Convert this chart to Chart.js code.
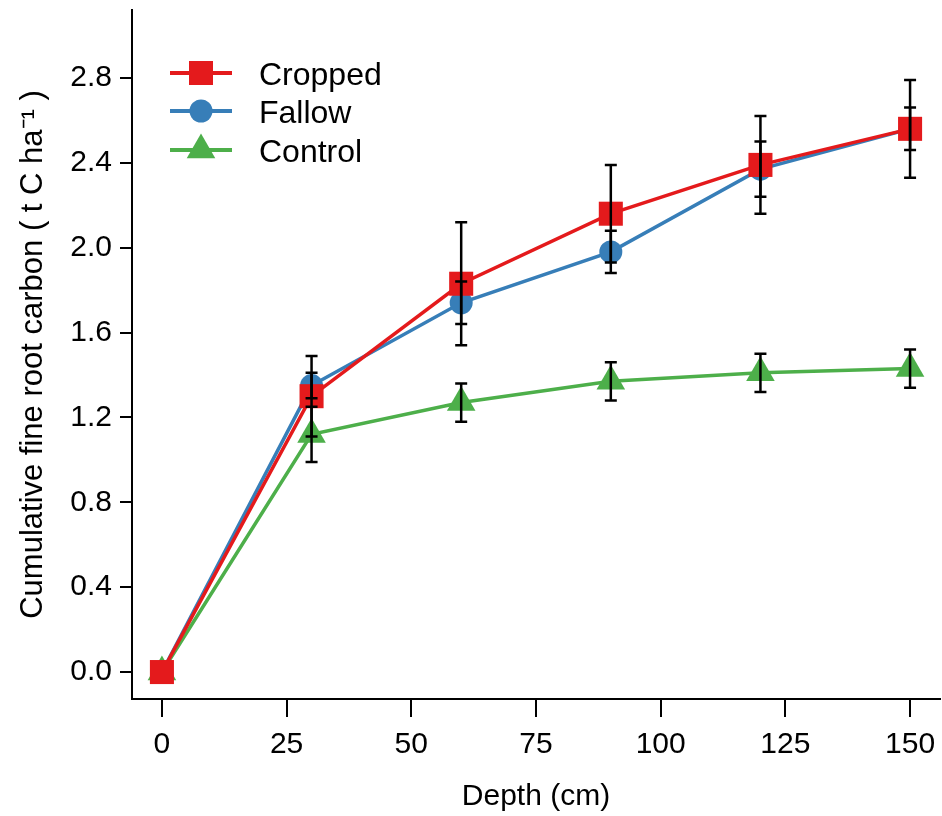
<!DOCTYPE html>
<html>
<head>
<meta charset="utf-8">
<script src="https://cdn.jsdelivr.net/npm/chart.js@4.4.1/dist/chart.umd.min.js"></script>
<style>
  html, body { margin: 0; padding: 0; background: #fff; }
  #wrap { width: 942px; height: 816px; }
</style>
</head>
<body>
<div id="wrap"><canvas id="rootChart"></canvas></div>
<script>
// === DATA ===
const depths = [0, 30, 60, 90, 120, 150];
const cropped = [0, 1.30, 1.83, 2.16, 2.39, 2.56];
const croppedErr = [0, 0.19, 0.29, 0.23, 0.23, 0.23];
const fallow = [0, 1.35, 1.74, 1.98, 2.37, 2.56];
const fallowErr = [0, 0.06, 0.10, 0.10, 0.13, 0.10];
const control = [0, 1.12, 1.27, 1.37, 1.41, 1.43];
const controlErr = [0, 0.13, 0.09, 0.09, 0.09, 0.09];
const xTicks = [0, 25, 50, 75, 100, 125, 150];
const yTicks = [0, 0.4, 0.8, 1.2, 1.6, 2.0, 2.4, 2.8];

const FONT = "'Liberation Sans', Arial, sans-serif";

const toPoints = (vals) => vals.map((v, i) => ({ x: depths[i], y: v }));

// no label overflow padding, so the plot box sits where the layout says
const fixBox = (w, h) => (s) => {
    if (w) s.width = w;
    if (h) s.height = h;
    s.paddingTop = s.paddingBottom = s.paddingLeft = s.paddingRight = 0;
};

// error bars drawn on top of the markers
const errorBars = {
    id: "errorBars",
    afterDatasetsDraw(chart) {
        const { ctx, scales: { x, y } } = chart;
        ctx.save();
        ctx.strokeStyle = "#000";
        ctx.lineWidth = 2.5;
        chart.data.datasets.forEach((ds) => {
            ds.errors.forEach((e, i) => {
                if (!e) return;
                const pt = ds.data[i];
                const px = x.getPixelForValue(pt.x);
                const top = y.getPixelForValue(pt.y + e);
                const bot = y.getPixelForValue(pt.y - e);
                ctx.beginPath();
                ctx.moveTo(px, top);
                ctx.lineTo(px, bot);
                ctx.moveTo(px - 6, top);
                ctx.lineTo(px + 6, top);
                ctx.moveTo(px - 6, bot);
                ctx.lineTo(px + 6, bot);
                ctx.stroke();
            });
        });
        ctx.restore();
    },
};

// legend with line + marker, inside the plot
const lineLegend = {
    id: "lineLegend",
    afterDraw(chart) {
        const { ctx, chartArea } = chart;
        const x0 = chartArea.left + 38;
        const rows = [63, 101, 140];
        ctx.save();
        chart.data.datasets.forEach((ds, i) => {
            const yy = chartArea.top + rows[i];
            ctx.strokeStyle = ds.borderColor;
            ctx.lineWidth = 4;
            ctx.beginPath();
            ctx.moveTo(x0, yy);
            ctx.lineTo(x0 + 62, yy);
            ctx.stroke();
            ctx.fillStyle = ds.backgroundColor;
            Chart.helpers.drawPoint(
                ctx,
                { pointStyle: ds.pointStyle, radius: ds.pointRadius, rotation: 0, borderWidth: 0 },
                x0 + 31,
                yy
            );
            ctx.fillStyle = "#000";
            ctx.font = "32px " + FONT;
            ctx.textBaseline = "middle";
            ctx.textAlign = "left";
            ctx.fillText(ds.label, x0 + 89, yy + 3);
        });
        ctx.restore();
    },
};

const ctx = document.getElementById("rootChart").getContext("2d");

new Chart(ctx, {
    type: "line",
    data: {
        datasets: [
            {
                label: "Cropped",
                data: toPoints(cropped),
                errors: croppedErr,
                borderColor: "#E41A1C",
                backgroundColor: "#E41A1C",
                pointStyle: "rect",
                pointRadius: 17,
            },
            {
                label: "Fallow",
                data: toPoints(fallow),
                errors: fallowErr,
                borderColor: "#377EB8",
                backgroundColor: "#377EB8",
                pointStyle: "circle",
                pointRadius: 11.5,
            },
            {
                label: "Control",
                data: toPoints(control),
                errors: controlErr,
                borderColor: "#4DAF4A",
                backgroundColor: "#4DAF4A",
                pointStyle: "triangle",
                pointRadius: 16.5,
            },
        ].map((d) => ({
            ...d,
            borderWidth: 3.5,
            tension: 0,
            pointBorderWidth: 0,
            pointHoverRadius: d.pointRadius,
            fill: false,
        })),
    },
    options: {
        responsive: true,
        maintainAspectRatio: false,
        animation: false,
        events: [],
        layout: {
            autoPadding: false,
            padding: { top: 10, right: 2, left: 0, bottom: 0 },
        },
        plugins: {
            legend: { display: false },
            tooltip: { enabled: false },
        },
        scales: {
            x: {
                type: "linear",
                min: -6,
                max: 156,
                afterBuildTicks: (s) => { s.ticks = xTicks.map((v) => ({ value: v })); },
                afterFit: fixBox(0, 117),
                grid: {
                    drawOnChartArea: false,
                    drawTicks: true,
                    tickLength: 18,
                    color: "#000",
                    lineWidth: 2,
                },
                border: { display: true, color: "#000", width: 2 },
                ticks: {
                    color: "#000",
                    font: { family: FONT, size: 30 },
                    padding: 10,
                    maxRotation: 0,
                    autoSkip: false,
                },
                title: {
                    display: true,
                    text: "Depth (cm)",
                    color: "#000",
                    font: { family: FONT, size: 30 },
                    padding: { top: 0, bottom: 1 },
                },
            },
            y: {
                type: "linear",
                min: -0.127,
                max: 3.12,
                afterBuildTicks: (s) => { s.ticks = yTicks.map((v) => ({ value: v })); },
                afterFit: fixBox(132, 0),
                grid: {
                    drawOnChartArea: false,
                    drawTicks: true,
                    tickLength: 12,
                    color: "#000",
                    lineWidth: 2,
                },
                border: { display: true, color: "#000", width: 2 },
                ticks: {
                    color: "#000",
                    font: { family: FONT, size: 30 },
                    padding: 8,
                    callback: (v) => v.toFixed(1),
                },
                title: {
                    display: true,
                    text: "Cumulative fine root carbon ( t C ha\u207B\u00B9 )",
                    color: "#000",
                    font: { family: FONT, size: 31 },
                    padding: { top: 15, bottom: 0 },
                },
            },
        },
    },
    plugins: [errorBars, lineLegend],
});
</script>
</body>
</html>
